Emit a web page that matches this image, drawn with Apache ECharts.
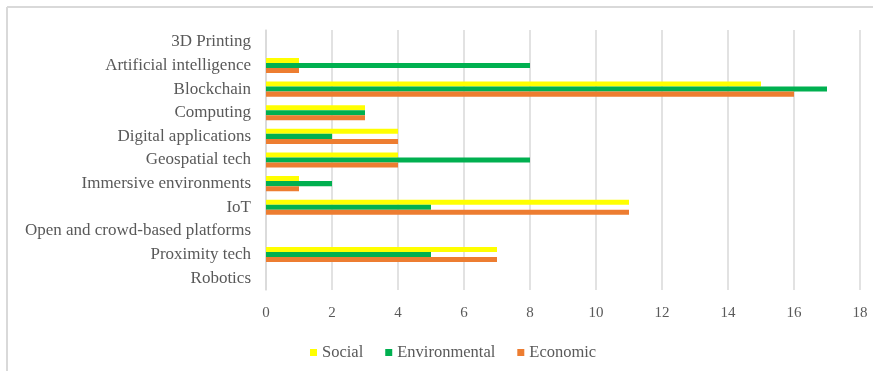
<!DOCTYPE html>
<html>
<head>
<meta charset="utf-8">
<script src="https://cdn.jsdelivr.net/npm/echarts@6/dist/echarts.min.js"></script>
<style>
  html, body { margin: 0; padding: 0; background: #fff; }
  #chart { width: 873px; height: 371px; }
</style>
</head>
<body>
<div id="chart"></div>
<script>
// categories, top to bottom
var categories = [
    '3D Printing', 'Artificial intelligence', 'Blockchain', 'Computing',
    'Digital applications', 'Geospatial tech', 'Immersive environments',
    'IoT', 'Open and crowd-based platforms', 'Proximity tech', 'Robotics'
];
var social        = [0, 1, 15, 3, 4, 4, 1, 11, 0, 7, 0];
var environmental = [0, 8, 17, 3, 2, 8, 2, 5, 0, 5, 0];
var economic      = [0, 1, 16, 3, 4, 4, 1, 11, 0, 7, 0];

var labelFont = 'Liberation Serif, Times New Roman, serif';
var gray = '#595959';

var myChart = echarts.init(document.getElementById('chart'));
var option = {
    animation: false,
    backgroundColor: '#fff',
    graphic: [
        { type: 'line', shape: { x1: 7, y1: 7, x2: 873, y2: 7 }, style: { stroke: '#d9d9d9', lineWidth: 2 } },
        { type: 'line', shape: { x1: 7, y1: 7, x2: 7, y2: 371 }, style: { stroke: '#d9d9d9', lineWidth: 2 } }
    ],
    legend: {
        top: 339,
        left: 305,
        itemWidth: 7,
        itemHeight: 7,
        itemGap: 22,
        icon: 'rect',
        textStyle: { fontFamily: labelFont, fontSize: 16.5, color: gray }
    },
    grid: { left: 266, right: 13, top: 30, bottom: 81 },
    xAxis: {
        type: 'value',
        min: 0,
        max: 18,
        interval: 2,
        axisLine: { show: false },
        axisTick: { show: false },
        splitLine: { lineStyle: { color: '#d9d9d9', width: 1.5 } },
        axisLabel: { fontFamily: labelFont, fontSize: 15, color: gray, margin: 16 }
    },
    yAxis: {
        type: 'category',
        inverse: true,
        data: categories,
        axisLine: { show: true, lineStyle: { color: '#d9d9d9', width: 1.5 } },
        axisTick: { show: false },
        axisLabel: { fontFamily: labelFont, fontSize: 17, color: gray, margin: 15 }
    },
    series: [
        { name: 'Social', type: 'bar', data: social, itemStyle: { color: '#ffff00' }, barGap: '0%', barCategoryGap: '36%' },
        { name: 'Environmental', type: 'bar', data: environmental, itemStyle: { color: '#00b050' }, barGap: '0%', barCategoryGap: '36%' },
        { name: 'Economic', type: 'bar', data: economic, itemStyle: { color: '#ed7d31' }, barGap: '0%', barCategoryGap: '36%' }
    ]
};
myChart.setOption(option);
</script>
</body>
</html>
